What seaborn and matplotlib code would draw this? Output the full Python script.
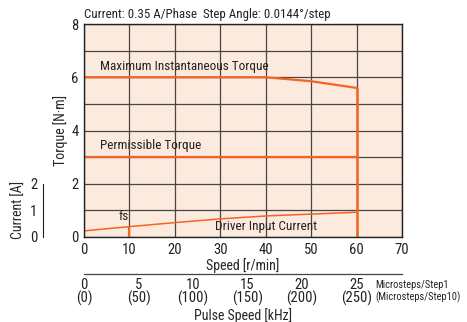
import matplotlib
matplotlib.use("Agg")
import matplotlib.pyplot as plt
import seaborn as sns
import pandas as pd

# data
speed_max = [0, 40, 50, 60]
torque_max = [6.0, 6.0, 5.85, 5.6]
speed_perm = [0, 60]
torque_perm = [3.0, 3.0]
speed_cur = [0, 10, 20, 30, 40, 50, 60]
current = [0.23, 0.39, 0.54, 0.68, 0.79, 0.86, 0.93]
pulse_ticks = [0, 5, 10, 15, 20, 25]
pulse_labels = ["0\n(0)", "5\n(50)", "10\n(100)", "15\n(150)", "20\n(200)", "25\n(250)"]

sns.set_style("white")
plt.rcParams['font.family'] = ['Roboto Condensed', 'Liberation Sans Narrow', 'Archivo Narrow', 'DejaVu Sans']
plt.rcParams['text.color'] = '#222222'
plt.rcParams['xtick.color'] = '#222222'
plt.rcParams['ytick.color'] = '#222222'

orange = '#f26522'
W, H = 467, 322
fig = plt.figure(figsize=(4.67, 3.22), dpi=100)

x0, x1, y0, y1 = 84, 402, 24, 237
ax = fig.add_axes([x0 / W, 1 - y1 / H, (x1 - x0) / W, (y1 - y0) / H])
ax.set_facecolor('#fdeadf')
ax.set_xlim(0, 70)
ax.set_ylim(0, 8)
ax.set_xticks(range(0, 71, 10))
ax.set_yticks([0, 2, 4, 6, 8])
ax.set_yticks(range(0, 9), minor=True)
ax.grid(True, which='both', color='#4a4444', lw=0.9)
ax.set_axisbelow(True)
for s in ax.spines.values():
    s.set_color('#222222')
    s.set_linewidth(1.0)
ax.tick_params(axis='both', which='major', length=3, width=0.8, labelsize=10.5, pad=1)
ax.tick_params(axis='y', which='minor', length=0)

df_max = pd.DataFrame({'speed': speed_max, 'torque': torque_max})
df_perm = pd.DataFrame({'speed': speed_perm, 'torque': torque_perm})
df_cur = pd.DataFrame({'speed': speed_cur, 'current': current})
sns.lineplot(data=df_max, x='speed', y='torque', ax=ax, color=orange, lw=1.6)
sns.lineplot(data=df_perm, x='speed', y='torque', ax=ax, color=orange, lw=1.6)
sns.lineplot(data=df_cur, x='speed', y='current', ax=ax, color=orange, lw=1.1)
ax.plot([speed_max[-1], speed_max[-1]], [0, torque_max[-1]], color=orange, lw=1.8)
ax.plot([10, 10], [0, current[1]], color=orange, lw=1.6)

ax.text(3.5, 6.4, "Maximum Instantaneous Torque", ha='left', va='center', fontsize=9.5)
ax.text(3.5, 3.42, "Permissible Torque", ha='left', va='center', fontsize=9.5)
ax.text(40, 0.38, "Driver Input Current", ha='center', va='center', fontsize=9.5)
ax.text(8.7, 0.78, "fs", ha='center', va='center', fontsize=9.5)
ax.text(0, 8.1, "Current: 0.35 A/Phase  Step Angle: 0.0144°/step", ha='left', va='bottom', fontsize=9.3)

ax.set_xlabel("Speed [r/min]", fontsize=10, labelpad=1)
ax.set_ylabel("Torque [N·m]", fontsize=10, labelpad=2)

# current axis at left
ppu = (y1 - y0) / 8
cx = 43
axc = fig.add_axes([cx / W, 1 - y1 / H, 0.001, 2 * ppu / H])
axc.set_ylim(0, 2)
axc.set_yticks([0, 1, 2])
axc.set_xticks([])
axc.patch.set_alpha(0)
for k in ['top', 'right', 'bottom']:
    axc.spines[k].set_visible(False)
axc.spines['left'].set_color('#222222')
axc.spines['left'].set_linewidth(0.8)
axc.tick_params(axis='y', length=3, width=0.8, labelsize=10.5, pad=1)
axc.set_ylabel("Current [A]", fontsize=10, labelpad=3)

# pulse speed axis below
py = 274
axp = fig.add_axes([x0 / W, 1 - py / H, (x1 - x0) / W, 0.001])
axp.set_xlim(0, 70 * 25 / 60)
axp.set_xticks(pulse_ticks)
axp.set_xticklabels(pulse_labels, fontsize=10.5, linespacing=0.9)
axp.set_yticks([])
axp.patch.set_alpha(0)
for k in ['top', 'right', 'left']:
    axp.spines[k].set_visible(False)
axp.spines['bottom'].set_color('#444444')
axp.spines['bottom'].set_linewidth(0.9)
axp.tick_params(axis='x', direction='in', length=3, width=0.8, pad=3)
axp.set_xlabel("Pulse Speed [kHz]", fontsize=10, labelpad=1)
axp.annotate("Microsteps/Step1\n(Microsteps/Step10)", xy=(26.75, 0), xycoords=('data', 'axes fraction'),
             xytext=(0, -4.5), textcoords='offset points', ha='left', va='top', fontsize=7.5, linespacing=1.1)

fig.savefig("out.png", dpi=100)
